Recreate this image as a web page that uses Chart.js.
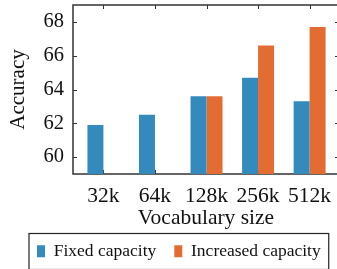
<!DOCTYPE html>
<html>
<head>
<meta charset="utf-8">
<script src="https://cdn.jsdelivr.net/npm/chart.js@4/dist/chart.umd.min.js"></script>
<style>
html,body{margin:0;padding:0;background:#fff;overflow:hidden;width:337px;height:269px;}
canvas{display:block;}
</style>
</head>
<body>
<canvas id="c" width="342" height="269" style="width:342px;height:269px"></canvas>
<script>
const vocabSizes = ['32k', '64k', '128k', '256k', '512k'];
const fixedCapacity = [61.9, 62.5, 63.6, 64.7, 63.3];
const increasedCapacity = [null, null, 63.6, 66.6, 67.7];
const accuracyTicks = [60, 62, 64, 66, 68];

const SERIF = "'Liberation Serif', 'Times New Roman', serif";
const SPINE = '#333333';

const framePlugin = {
  id: 'frame',
  afterLayout(chart) {
    const lg = chart.legend;
    if (!lg || !lg.lineWidths) return;
    const pad = lg.options.labels.padding;
    const start = (lg.left + pad + lg.right - lg.lineWidths[0]) / 2;
    const dx = 37 - start;
    lg.left += dx; lg.right += dx;
    lg.top += 1; lg.bottom += 1;
  },
  beforeDatasetsDraw(chart) {
    const {ctx, chartArea: a, scales: {x, y}} = chart;
    ctx.save();
    ctx.strokeStyle = SPINE;
    ctx.lineWidth = 1;
    const tl = 4;
    ctx.beginPath();
    vocabSizes.forEach((_, i) => {
      const px = Math.round(x.getPixelForValue(i)) + 0.5;
      ctx.moveTo(px, a.top); ctx.lineTo(px, a.top + tl);
      ctx.moveTo(px, a.bottom); ctx.lineTo(px, a.bottom - tl);
    });
    accuracyTicks.forEach(v => {
      const py = Math.round(y.getPixelForValue(v)) + 0.5;
      ctx.moveTo(a.left, py); ctx.lineTo(a.left + tl, py);
      ctx.moveTo(a.right, py); ctx.lineTo(a.right - tl, py);
    });
    ctx.stroke();
    ctx.lineWidth = 1.5;
    ctx.strokeRect(a.left, a.top, a.right - a.left, a.bottom - a.top);
    ctx.restore();
  },
  afterDraw(chart) {
    const lg = chart.legend;
    if (!lg || !lg.lineWidths) return;
    const pad = lg.options.labels.padding;
    const start = (lg.left + pad + lg.right - lg.lineWidths[0]) / 2;
    const end = start + lg.lineWidths[0] - pad;
    const rowTop = lg.top + pad;
    const ctx = chart.ctx;
    ctx.save();
    ctx.strokeStyle = '#222';
    ctx.lineWidth = 1.2;
    ctx.strokeRect(start - 8, rowTop - 9, end - start + 16, 36);
    ctx.restore();
  }
};

new Chart(document.getElementById('c'), {
  type: 'bar',
  data: {
    datasets: [
      {
        label: 'Fixed capacity',
        data: vocabSizes.map((_, i) => ({x: i, y: fixedCapacity[i]})),
        backgroundColor: '#348ABD',
        categoryPercentage: 0.62,
        barPercentage: 1.0
      },
      {
        label: 'Increased capacity',
        data: vocabSizes.map((_, i) => ({x: i, y: increasedCapacity[i]})),
        backgroundColor: '#E36C33',
        categoryPercentage: 0.62,
        barPercentage: 1.0
      }
    ]
  },
  options: {
    responsive: false,
    animation: false,
    events: [],
    layout: {padding: {top: 5, right: 3, left: 0, bottom: 0}},
    plugins: {
      tooltip: {enabled: false},
      legend: {
        position: 'bottom',
        labels: {
          boxWidth: 8,
          boxHeight: 12,
          padding: 18,
          color: '#111',
          font: {family: SERIF, size: 17.5}
        }
      }
    },
    scales: {
      x: {
        type: 'linear',
        min: -0.59,
        max: 4.57,
        offset: false,
        grid: {display: false, drawTicks: false},
        border: {display: false},
        afterBuildTicks(s) { s.ticks = vocabSizes.map((_, i) => ({value: i})); },
        afterFit(s) { s.height = 49.5; s.paddingLeft = 0; s.paddingRight = 0; },
        ticks: {
          padding: 9,
          color: '#111',
          font: {family: SERIF, size: 21.5},
          maxRotation: 0,
          autoSkip: false,
          callback: (v) => vocabSizes[v]
        },
        title: {
          display: true,
          text: 'Vocabulary size',
          color: '#111',
          font: {family: SERIF, size: 21.5},
          padding: {top: 0, bottom: -8}
        }
      },
      y: {
        min: 59,
        max: 69,
        grid: {display: false, drawTicks: false},
        border: {display: false},
        afterBuildTicks(s) { s.ticks = accuracyTicks.map(v => ({value: v})); },
        afterFit(s) { s.width = 73; s.paddingTop = 0; s.paddingBottom = 0; },
        ticks: {
          padding: 9,
          color: '#111',
          font: {family: SERIF, size: 20.5}
        },
        title: {
          display: true,
          text: 'Accuracy',
          color: '#111',
          font: {family: SERIF, size: 21},
          padding: {top: 5.4, bottom: 0}
        }
      }
    }
  },
  plugins: [framePlugin]
});
</script>
</body>
</html>
